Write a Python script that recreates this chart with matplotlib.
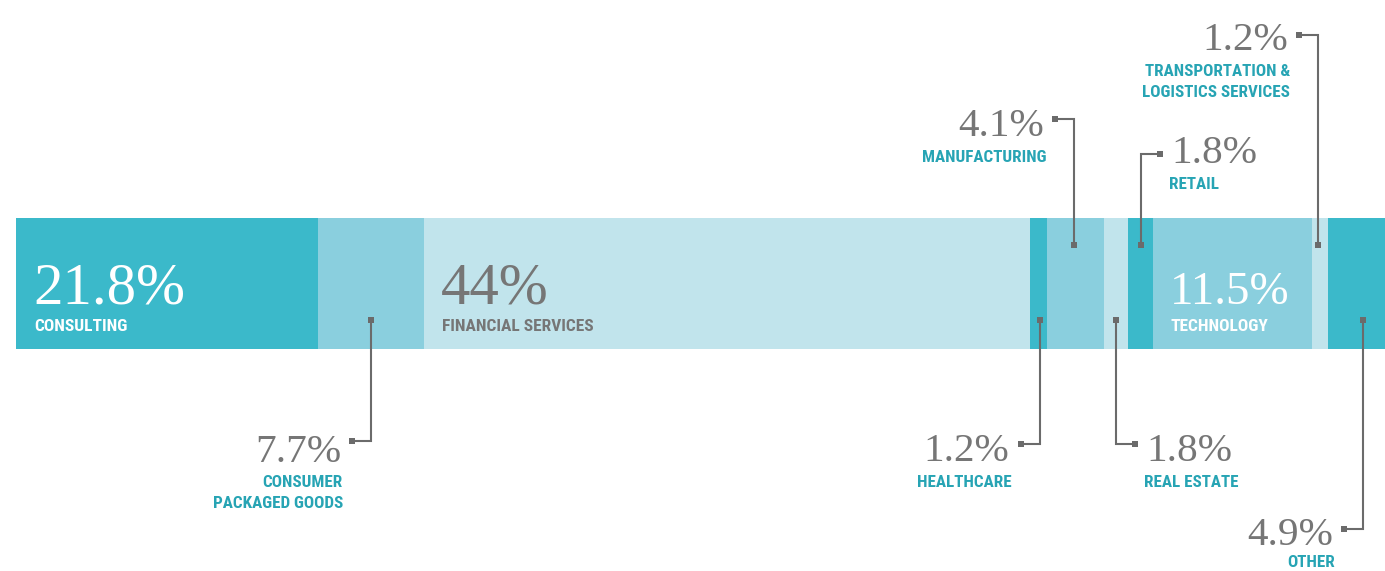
import matplotlib
matplotlib.use('Agg')
import matplotlib.pyplot as plt
import matplotlib.font_manager as fm

# industry shares (label values) and drawn segment widths (% of bar)
industries = ['CONSULTING', 'CONSUMER\nPACKAGED GOODS', 'FINANCIAL SERVICES', 'HEALTHCARE',
              'MANUFACTURING', 'REAL ESTATE', 'RETAIL', 'TECHNOLOGY',
              'TRANSPORTATION &\nLOGISTICS SERVICES', 'OTHER']
share_labels = ['21.8%', '7.7%', '44%', '1.2%', '4.1%', '1.8%', '1.8%', '11.5%', '1.2%', '4.9%']
bar_widths = [22.06, 7.74, 44.27, 1.24, 4.16, 1.75, 1.83, 11.61, 1.17, 4.16]

DARK, MID, LIGHT = '#3bb9ca', '#8acfde', '#c1e4ec'
seg_colors = [DARK, MID, LIGHT, DARK, MID, LIGHT, DARK, MID, LIGHT, DARK]
TEAL = '#27a4b4'
GREY = '#767676'
LINE = '#6b6b6b'

PCT_FONT = ['Liberation Serif', 'DejaVu Serif']


def pick_label_font():
    """Look for a narrow bold sans, else fall back to Lato"""
    cands = [('Roboto Condensed', ''), ('Liberation Sans Narrow', ''),
             ('Open Sans Condensed', ''), ('Noto Sans', 'ondensed'),
             ('Open Sans', 'ondensed'), ('Noto Sans Display', 'ondensed')]
    for fam, need in cands:
        prop = fm.FontProperties(family=fam, weight='bold', stretch='condensed')
        try:
            path = fm.findfont(prop, fallback_to_default=False)
        except ValueError:
            continue
        if need in path:
            return [fam], 'condensed'
    return ['Lato', 'DejaVu Sans'], 'normal'


LBL_FONT, LBL_STRETCH = pick_label_font()

# layout in pixels
X0, SCALE = 16, 13.69
BAR_TOP, BAR_BOT = 218, 349


def px2x(px):
    return (px - X0) / SCALE


fig = plt.figure(figsize=(13.85, 5.71), dpi=100)
ax = fig.add_axes([0, 0, 1, 1])
ax.set_xlim(px2x(0), px2x(1385))
ax.set_ylim(571, 0)
ax.axis('off')
renderer = fig.canvas.get_renderer()


def fit_size(text, width_px, **kw):
    # font size that makes `text` about width_px wide
    t = ax.text(0, 0, text, fontsize=20, **kw)
    w = t.get_window_extent(renderer).width
    t.remove()
    return 20 * width_px / w


lbl_kw = dict(family=LBL_FONT, fontweight='bold', fontstretch=LBL_STRETCH)
LBL_SIZE = fit_size('MANUFACTURING', 125, **lbl_kw)
IN_LBL_SIZE = fit_size('CONSULTING', 94, **lbl_kw)
CALL_PCT = fit_size('1.8%', 86, family=PCT_FONT)
BIG_PCT = fit_size('21.8%', 152, family=PCT_FONT)
TECH_PCT = fit_size('11.5%', 120, family=PCT_FONT)

lefts = []
acc = 0
for w in bar_widths:
    lefts.append(acc)
    acc += w
ax.barh((BAR_TOP + BAR_BOT) / 2, bar_widths, left=lefts, height=BAR_BOT - BAR_TOP,
        color=seg_colors, linewidth=0)

# labels inside the bar: index -> (text colour, percent size)
inside = {0: ('white', BIG_PCT), 2: (GREY, BIG_PCT), 7: ('white', TECH_PCT)}
for i, (col, fs) in inside.items():
    x = lefts[i] + 17 / SCALE
    ax.text(x, 304, share_labels[i], color=col, fontsize=fs, family=PCT_FONT,
            ha='left', va='baseline')
    ax.text(x + 1 / SCALE, 331, industries[i], color=col, fontsize=IN_LBL_SIZE,
            ha='left', va='baseline', **lbl_kw)

# callouts: index -> (direction, leader y, text side, x nudge, pct baseline, label baseline)
callouts = {
    1: ('down', 441, 'left', 0, 462, 487),
    3: ('down', 444, 'left', 1, 461, 487),
    4: ('up', 119, 'left', -1, 136, 162),
    5: ('down', 444, 'right', 0, 461, 487),
    6: ('up', 154, 'right', 1, 163, 189),
    8: ('up', 35, 'left', -2, 50, 76),
    9: ('down', 529, 'left', 7, 545, 567),
}
for i, (d, ey, side, nudge, pct_y, lbl_y) in callouts.items():
    cx = lefts[i] + bar_widths[i] / 2 + nudge / SCALE
    sy = 245 if d == 'up' else 320
    sgn = -1 if side == 'left' else 1
    ex = cx + sgn * 19 / SCALE
    ax.plot([cx, cx, ex], [sy, ey, ey], color=LINE, lw=1.5, solid_joinstyle='miter')
    ax.plot([cx, ex], [sy, ey], 's', color=LINE, ms=4.6, mew=0)
    ha = 'right' if side == 'left' else 'left'
    ax.text(ex + sgn * 11 / SCALE, pct_y, share_labels[i], color=GREY, fontsize=CALL_PCT,
            family=PCT_FONT, ha=ha, va='baseline')
    for k, line in enumerate(industries[i].split('\n')):
        ax.text(ex + sgn * 9 / SCALE, lbl_y + 21 * k, line, color=TEAL, fontsize=LBL_SIZE,
                ha=ha, va='baseline', **lbl_kw)

fig.savefig('out.png', dpi=100)
